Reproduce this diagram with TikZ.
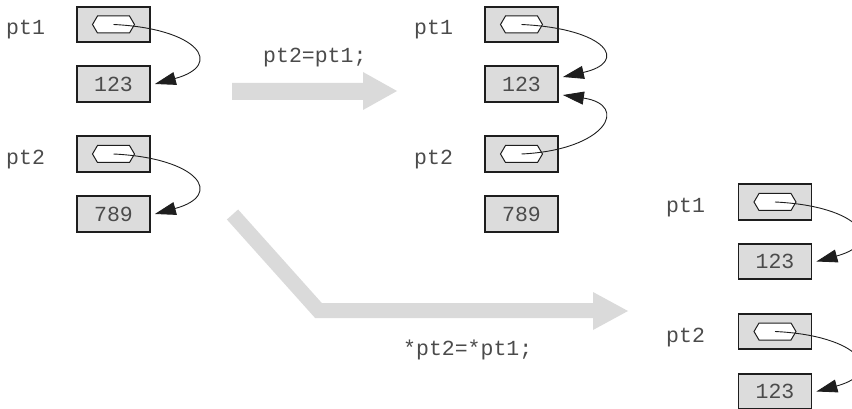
\documentclass[tikz,border=0pt]{standalone}
\usepackage{fontspec}
\newfontfamily\codefont{Liberation Mono}
\usetikzlibrary{arrows.meta}
\definecolor{cellfill}{RGB}{220,220,220}
\definecolor{flowgray}{RGB}{218,218,218}
\definecolor{ink}{RGB}{30,30,30}
\definecolor{txt}{RGB}{75,75,75}
% pointer glyph: a flat hexagon centred in a pointer cell
\newcommand\hexglyph[1]{%
  \draw[hexline] ([shift={(-21,0)}]#1.center) -- ++(5,-8.5) -- ++(32,0)
    -- ++(5,8.5) -- ++(-5,8.5) -- ++(-32,0) -- cycle;}
\begin{document}
\begin{tikzpicture}[x=1pt,y=-1pt,
  cell/.style={draw=ink, line width=1.8pt, fill=cellfill,
    minimum width=73pt, minimum height=35.5pt, inner sep=0pt,
    font=\codefont\fontsize{21.5}{24}\selectfont, text=txt},
  lbl/.style={inner sep=0pt, anchor=base west,
    font=\codefont\fontsize{21.5}{24}\selectfont, text=txt},
  hexline/.style={draw=ink, line width=1pt, fill=white},
  ptr/.style={draw=ink, line width=0.9pt,
    -{Triangle[length=21pt,width=13pt]}},
  flow/.style={fill=flowgray, draw=none}]
\useasboundingbox (0,0) rectangle (852,409);

% transition arrows
\fill[flow] (232,83) -- (363,83) -- (363,72) -- (397,91) -- (363,110)
  -- (363,100) -- (232,100) -- cycle;
\fill[flow] (226.9,219.5) -- (238.1,209.5) -- (321.8,303) -- (593,303)
  -- (593,292) -- (628,311) -- (593,330) -- (593,318) -- (315.1,318) -- cycle;
\node[lbl] (opA) at (263,63) {pt2=pt1;};
\node[lbl] (opB) at (403,355) {*pt2=*pt1;};

% initial state
\node[cell] (L1) at (113.5,24.5) {};
\node[cell] (L2) at (113.5,84) {123};
\node[cell] (L3) at (113.5,154) {};
\node[cell] (L4) at (113.5,214) {789};
\node[lbl] (lL1) at (6,35) {pt1};
\node[lbl] (lL3) at (6,165) {pt2};
\hexglyph{L1} \hexglyph{L3}
\draw[ptr] (L1.center) .. controls +(85,4) and +(70,-19) .. ([shift={(4,0)}]L2.east);
\draw[ptr] (L3.center) .. controls +(85,4) and +(70,-19) .. ([shift={(4,0)}]L4.east);

% after pt2=pt1;
\node[cell] (M1) at (521.5,24.5) {};
\node[cell] (M2) at (521.5,84) {123};
\node[cell] (M3) at (521.5,154) {};
\node[cell] (M4) at (521.5,214) {789};
\node[lbl] (lM1) at (414,35) {pt1};
\node[lbl] (lM3) at (414,165) {pt2};
\hexglyph{M1} \hexglyph{M3}
\draw[ptr] (M1.center) .. controls +(85,4) and +(67,-15) .. ([shift={(4,-7)}]M2.east);
\draw[ptr] (M3.center) .. controls +(85,-4) and +(67,10) .. ([shift={(4,11)}]M2.east);

% after *pt2=*pt1;
\node[cell] (R1) at (775,202) {};
\node[cell] (R2) at (775,261.5) {123};
\node[cell] (R3) at (775,331.5) {};
\node[cell] (R4) at (775,391.5) {123};
\node[lbl] (lR1) at (666,212.5) {pt1};
\node[lbl] (lR3) at (666,342.5) {pt2};
\hexglyph{R1} \hexglyph{R3}
\draw[ptr] (R1.center) .. controls +(85,4) and +(70,-19) .. ([shift={(4,0)}]R2.east);
\draw[ptr] (R3.center) .. controls +(85,4) and +(70,-19) .. ([shift={(4,0)}]R4.east);
\end{tikzpicture}
\end{document}
